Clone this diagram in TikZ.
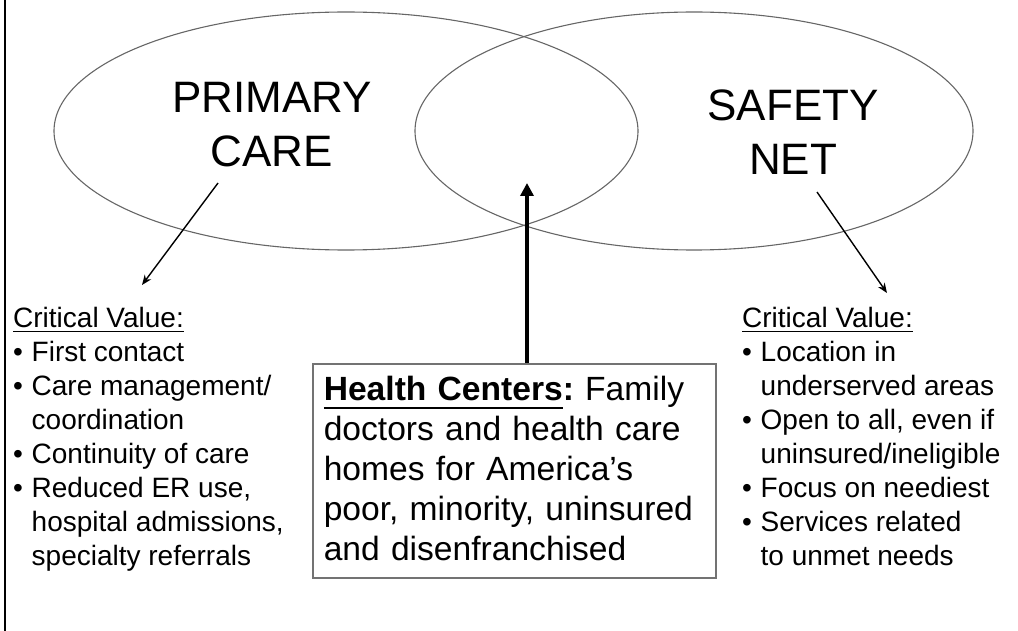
\documentclass[tikz,border=0pt]{standalone}
\usepackage{fontspec}
\setmainfont{Liberation Sans}
\usetikzlibrary{shapes.geometric,arrows.meta}
\frenchspacing
\newcommand\ulx[3]{\setbox0\hbox{#3}\leavevmode\rlap{\rule[-#1]{\wd0}{#2}}\box0}
\newcommand\itm{\makebox[18.5pt][l]{•}}
\newcommand\cnt{\hspace*{18.5pt}}
\begin{document}
\begin{tikzpicture}[x=1pt,y=-1pt,
  venn/.style={ellipse,draw=black!60,line width=1.1pt,inner sep=0},
  big/.style={font=\fontsize{44}{54}\selectfont,align=center,inner sep=0,anchor=north},
  list/.style={font=\fontsize{28}{34}\selectfont,align=left,inner sep=0,anchor=north west},
  thin arrow/.style={-{Stealth[length=10pt,width=8pt]},line width=1.4pt},
  thick arrow/.style={-{Triangle[length=13pt,width=13pt]},line width=3.5pt}]
\useasboundingbox (0,0) rectangle (1018,631);
\draw[line width=2.5pt] (5,0) -- (5,631);
\node[venn,minimum width=584pt,minimum height=238pt] (pe) at (346,131) {};
\node[venn,minimum width=558pt,minimum height=238pt] (se) at (694,131) {};
\node[big] (pc) at (272,82) {PRIMARY\\CARE};
\node[big] (sn) at (793,90) {SAFETY\\NET};
\node[list] (lv) at (13,307) {\ulx{5pt}{1.4pt}{Critical Value:}\\
  \itm First contact\\
  \itm Care management/\\
  \cnt coordination\\
  \itm Continuity of care\\
  \itm Reduced ER use,\\
  \cnt hospital admissions,\\
  \cnt specialty referrals};
\node[list] (rv) at (742,307) {\ulx{5pt}{1.4pt}{Critical Value:}\\
  \itm Location in\\
  \cnt underserved areas\\
  \itm Open to all, even if\\
  \cnt uninsured/ineligible\\
  \itm Focus on neediest\\
  \itm Services related\\
  \cnt to unmet needs};
\node[draw=black!55,line width=1.6pt,anchor=north west,inner xsep=11pt,inner ysep=12pt,
  text width=381pt,align=left,font=\fontsize{33.6}{40}\selectfont] (hc) at (312,363)
  {\textbf{\ulx{9pt}{2.6pt}{Health Centers}:} Family\\
  doctors and health care\\
  homes for America’s\\
  poor, minority, uninsured\\
  and disenfranchised\rule[-6pt]{0pt}{6pt}};
\coordinate (pa) at (218,183);
\coordinate (pb) at (142,285);
\coordinate (sa) at (817,192);
\coordinate (sb) at (887,293);
\coordinate (ht) at (527,183);
\draw[thin arrow] (pa) -- (pb);
\draw[thin arrow] (sa) -- (sb);
\draw[thick arrow] (hc.north -| ht) -- (ht);
\end{tikzpicture}
\end{document}
